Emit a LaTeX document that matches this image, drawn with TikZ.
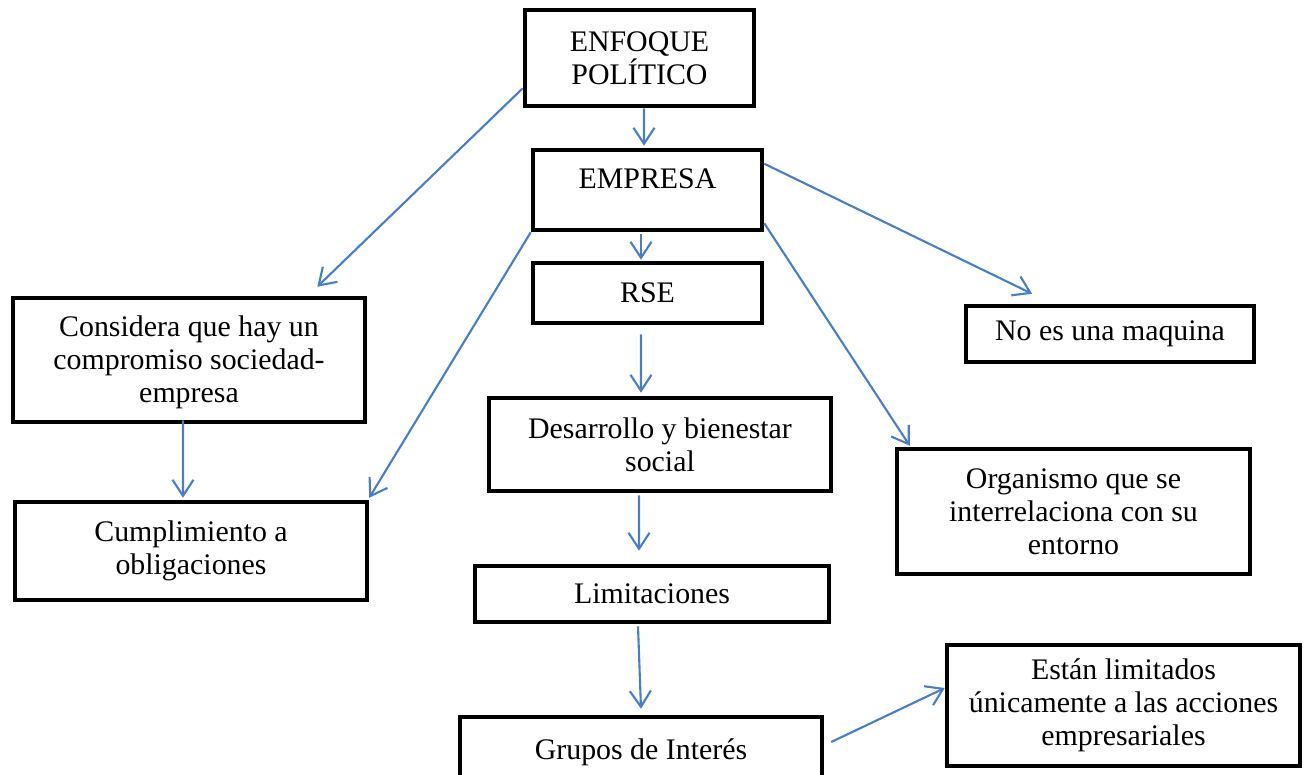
\documentclass[tikz,border=0pt]{standalone}
\usepackage{fontspec}
\setmainfont{Liberation Serif}
\usetikzlibrary{arrows.meta}
\definecolor{flecha}{RGB}{74,126,193}
\begin{document}
\begin{tikzpicture}[x=0.02cm,y=-0.02cm,
    caja/.style={draw,line width=2.6pt,align=center,inner sep=0pt,
      font=\fontsize{17}{18.8}\selectfont},
    flechita/.style={draw=flecha,line width=1.2pt,
      -{Straight Barb[length=0.32cm,width=0.42cm]}}]
    \useasboundingbox (0,0) rectangle (1304,774);
    \clip (0,0) rectangle (1304,774);
    \node[caja,minimum width=4.58cm,minimum height=1.92cm] (enfoque) at (639.5,58) {ENFOQUE\\POLÍTICO};
    \node[caja,minimum width=4.58cm,minimum height=1.6cm,text depth=0.45cm] (empresa) at (647.5,190) {EMPRESA};
    \node[caja,minimum width=4.58cm,minimum height=1.2cm] (rse) at (647.5,293) {RSE};
    \node[caja,minimum width=7.04cm,minimum height=2.48cm] (considera) at (189,360) {\rule{0pt}{0.5cm}Considera que hay un\\compromiso sociedad-\\empresa};
    \node[caja,minimum width=7.04cm,minimum height=1.96cm] (cumplimiento) at (191,551) {Cumplimiento a\\obligaciones};
    \node[caja,minimum width=6.84cm,minimum height=1.86cm] (desarrollo) at (660,444.5) {Desarrollo y bienestar\\social};
    \node[caja,minimum width=7.08cm,minimum height=1.12cm] (limitaciones) at (652,594) {Limitaciones};
    \node[caja,minimum width=7.24cm,minimum height=1.4cm] (grupos) at (641,752) {Grupos de Interés};
    \node[caja,minimum width=5.76cm,minimum height=1.12cm] (noes) at (1110,334) {No es una maquina};
    \node[caja,minimum width=7.06cm,minimum height=2.5cm] (organismo) at (1073.5,511.5) {Organismo que se\\interrelaciona con su\\entorno};
    \node[caja,minimum width=7.06cm,minimum height=2.42cm] (estan) at (1123.5,705.5) {Están limitados\\únicamente a las acciones\\empresariales};
    \draw[flechita] ([xshift=0.09cm]enfoque.south) -- ([xshift=-0.07cm,yshift=0.04cm]empresa.north);
    \draw[flechita] ([yshift=0.4cm]enfoque.south west) -- ([xshift=-1cm,yshift=0.18cm]considera.north east);
    \draw[flechita] ([xshift=-0.13cm,yshift=-0.04cm]empresa.south) -- ([xshift=-0.13cm,yshift=0.02cm]rse.north);
    \draw[flechita] (empresa.south west) -- ([yshift=0.04cm]cumplimiento.north east);
    \draw[flechita] ([yshift=-0.32cm]empresa.north east) -- ([xshift=-1.56cm,yshift=0.2cm]noes.north);
    \draw[flechita] ([yshift=0.18cm]empresa.south east) -- ([xshift=0.3cm,yshift=0.02cm]organismo.north west);
    \draw[flechita] ([xshift=-0.13cm,yshift=-0.18cm]rse.south) -- ([xshift=-0.38cm,yshift=0.06cm]desarrollo.north);
    \draw[flechita] ([xshift=-0.12cm,yshift=0.08cm]considera.south) -- ([xshift=-0.16cm,yshift=0.04cm]cumplimiento.north);
    \draw[flechita] ([xshift=-0.42cm,yshift=-0.04cm]desarrollo.south) -- ([xshift=-0.26cm,yshift=0.26cm]limitaciones.north);
    \draw[flechita] ([xshift=-0.28cm,yshift=-0.04cm]limitaciones.south) -- ([yshift=0.12cm]grupos.north);
    \draw[flechita] ([xshift=0.14cm,yshift=0.2cm]grupos.east) -- ([yshift=0.35cm]estan.west);
\end{tikzpicture}
\end{document}
